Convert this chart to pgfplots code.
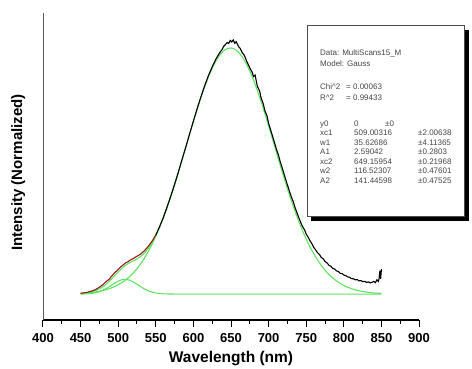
\documentclass[border=0pt]{standalone}
\usepackage{fontspec}
\setmainfont{Liberation Sans}
\usepackage{pgfplots}
\pgfplotsset{compat=1.18}
\definecolor{fitgreen}{RGB}{95,228,95}
\definecolor{datared}{RGB}{150,25,25}
\begin{document}
\begin{tikzpicture}
\begin{axis}[
  scale only axis, width=376pt, height=307pt,
  xmin=400, xmax=900, ymin=-0.102, ymax=1.106,
  axis lines=left, axis line style={-},
  x axis line style={line width=1.2pt, black},
  y axis line style={line width=0.8pt, black!65},
  xtick={400,450,...,900}, minor x tick num=1,
  ytick=\empty,
  tick align=outside, major tick length=7pt, minor tick length=4pt,
  tick style={line width=1pt, black},
  /pgf/number format/assume math mode=true,
  /pgf/number format/1000 sep={},
  xticklabel style={font=\bfseries\fontsize{13}{13}\selectfont, yshift=-3pt},
  xlabel={Wavelength (nm)},
  xlabel style={font=\bfseries\fontsize{15.5}{15.5}\selectfont, yshift=-2pt},
  ylabel={Intensity (Normalized)},
  ylabel style={font=\bfseries\fontsize{15}{15}\selectfont, at={(axis description cs:-0.066,0.48)}, anchor=center},
  clip=false,
]
\coordinate (sw) at (rel axis cs:0,0);
% component 2
\addplot[fitgreen, line width=1.1pt] coordinates {
(450,0.0028)(455,0.0037)(460,0.0050)(465,0.0065)(470,0.0086)(475,0.0111)(480,0.0143)(485,0.0183)(490,0.0232)(495,0.0292)
(500,0.0365)(505,0.0454)(510,0.0559)(515,0.0683)(520,0.0829)(525,0.1000)(530,0.1196)(535,0.1420)(540,0.1675)(545,0.1959)
(550,0.2276)(555,0.2624)(560,0.3003)(565,0.3412)(570,0.3848)(575,0.4308)(580,0.4788)(585,0.5282)(590,0.5784)(595,0.6288)
(600,0.6785)(605,0.7267)(610,0.7727)(615,0.8157)(620,0.8546)(625,0.8888)(630,0.9176)(635,0.9404)(640,0.9567)(645,0.9661)
(650,0.9685)(655,0.9638)(660,0.9520)(665,0.9334)(670,0.9085)(675,0.8778)(680,0.8420)(685,0.8016)(690,0.7577)(695,0.7108)
(700,0.6619)(705,0.6119)(710,0.5615)(715,0.5114)(720,0.4625)(725,0.4151)(730,0.3699)(735,0.3271)(740,0.2872)(745,0.2503)
(750,0.2166)(755,0.1860)(760,0.1586)(765,0.1342)(770,0.1127)(775,0.0940)(780,0.0778)(785,0.0639)(790,0.0521)(795,0.0422)
(800,0.0339)(805,0.0271)(810,0.0214)(815,0.0168)(820,0.0132)(825,0.0102)(830,0.0078)(835,0.0060)(840,0.0045)(845,0.0034)
(850,0.0025)};
% component 1
\addplot[fitgreen, line width=1.1pt] coordinates {
(450,0.0002)(455,0.0006)(460,0.0013)(465,0.0027)(470,0.0053)(475,0.0094)(480,0.0154)(485,0.0234)(490,0.0328)(495,0.0426)
(500,0.0511)(505,0.0566)(510,0.0580)(515,0.0548)(520,0.0479)(525,0.0387)(530,0.0289)(535,0.0200)(540,0.0128)(545,0.0075)
(550,0.0041)(560,0.0010)(570,0.0002)(580,0)(850,0)};
% cumulative fit
\addplot[fitgreen, line width=1.1pt] coordinates {
(450,0.0030)(455,0.0043)(460,0.0063)(465,0.0092)(470,0.0139)(475,0.0205)(480,0.0297)(485,0.0417)(490,0.0560)(495,0.0718)
(500,0.0876)(505,0.1020)(510,0.1139)(515,0.1231)(520,0.1308)(525,0.1387)(530,0.1485)(535,0.1620)(540,0.1803)(545,0.2034)
(550,0.2317)(555,0.2645)(560,0.3013)(565,0.3416)(570,0.3850)(575,0.4308)(580,0.4788)};
% data, red part
\addplot[datared, line width=1.1pt] coordinates {
(450,0.003)(455,0.005)(460,0.008)(465,0.012)(470,0.018)(475,0.027)(480,0.038)(485,0.052)(488,0.058)(490,0.066)(495,0.083)
(500,0.097)(503,0.106)(505,0.111)(510,0.123)(513,0.127)(515,0.132)(520,0.140)(525,0.149)(530,0.158)(535,0.171)(540,0.188)
(545,0.208)(550,0.232)};
% data, black part
\addplot[black, line width=1.1pt] coordinates {
(550,0.232)(555,0.265)(560,0.301)(565,0.343)(570,0.386)(575,0.432)(580,0.480)(585,0.531)(590,0.580)(595,0.631)
(600,0.681)(605,0.730)(610,0.776)(615,0.820)(620,0.860)(625,0.894)(630,0.925)(635,0.950)(638,0.962)(640,0.974)
(642,0.980)(645,0.990)(647,0.986)(649,0.998)(651,0.992)(653,1.000)(655,0.987)(657,0.993)(660,0.974)(662,0.968)
(665,0.950)(668,0.938)(670,0.922)(675,0.890)(678,0.874)(680,0.856)(682,0.862)(685,0.818)(688,0.800)(690,0.772)
(693,0.748)(695,0.722)(698,0.700)(700,0.672)(705,0.624)(710,0.574)(713,0.548)(715,0.526)(720,0.478)(725,0.430)
(730,0.384)(733,0.362)(735,0.342)(740,0.302)(743,0.280)(745,0.266)(748,0.252)(750,0.236)(753,0.222)(755,0.210)
(758,0.196)(760,0.184)(763,0.172)(765,0.163)(768,0.154)(770,0.144)(773,0.138)(775,0.128)(778,0.122)(780,0.114)
(783,0.109)(785,0.102)(788,0.098)(790,0.092)(793,0.088)(795,0.082)(798,0.080)(800,0.075)(803,0.072)(805,0.068)
(808,0.066)(810,0.061)(813,0.060)(815,0.056)(818,0.057)(820,0.052)(823,0.053)(825,0.049)(828,0.050)(830,0.046)
(833,0.048)(835,0.044)(838,0.047)(840,0.050)(842,0.045)(844,0.056)(846,0.050)(847,0.062)(848,0.092)(849,0.060)(850,0.098)};
\end{axis}
\begin{scope}[shift={([shift={(-43pt,320pt)}]sw)}, x=1pt, y=-1pt]
  \fill[black] (311,30) rectangle (469,221);
  \filldraw[fill=white, draw=black!70, line width=0.6pt] (307,25) rectangle (464,216);
  \begin{scope}[every node/.style={anchor=base west, inner sep=0pt, text=black!72, font=\fontsize{8}{8}\selectfont}]
    \node at (320,55) {Data: MultiScans15\_M};
    \node at (320,66) {Model: Gauss};
    \node at (320,89) {Chi\^{}2};
    \node at (346,89) {= 0.00063};
    \node at (320,100) {R\^{}2};
    \node at (346,100) {= 0.99433};
    \node at (320,126) {y0};
    \node at (354,126) {0};
    \node at (385,126) {±0};
    \node at (320,135.5) {xc1};
    \node at (354,135.5) {509.00316};
    \node at (418,135.5) {±2.00638};
    \node at (320,145) {w1};
    \node at (354,145) {35.62686};
    \node at (418,145) {±4.11365};
    \node at (320,154.5) {A1};
    \node at (354,154.5) {2.59042};
    \node at (418,154.5) {±0.2803};
    \node at (320,164) {xc2};
    \node at (354,164) {649.15954};
    \node at (418,164) {±0.21968};
    \node at (320,173.5) {w2};
    \node at (354,173.5) {116.52307};
    \node at (418,173.5) {±0.47601};
    \node at (320,183) {A2};
    \node at (354,183) {141.44598};
    \node at (418,183) {±0.47525};
  \end{scope}
\end{scope}
\pgfresetboundingbox
\path[use as bounding box] ([shift={(-43pt,-48pt)}]sw) rectangle ([shift={(429pt,320pt)}]sw);
\end{tikzpicture}
\end{document}
